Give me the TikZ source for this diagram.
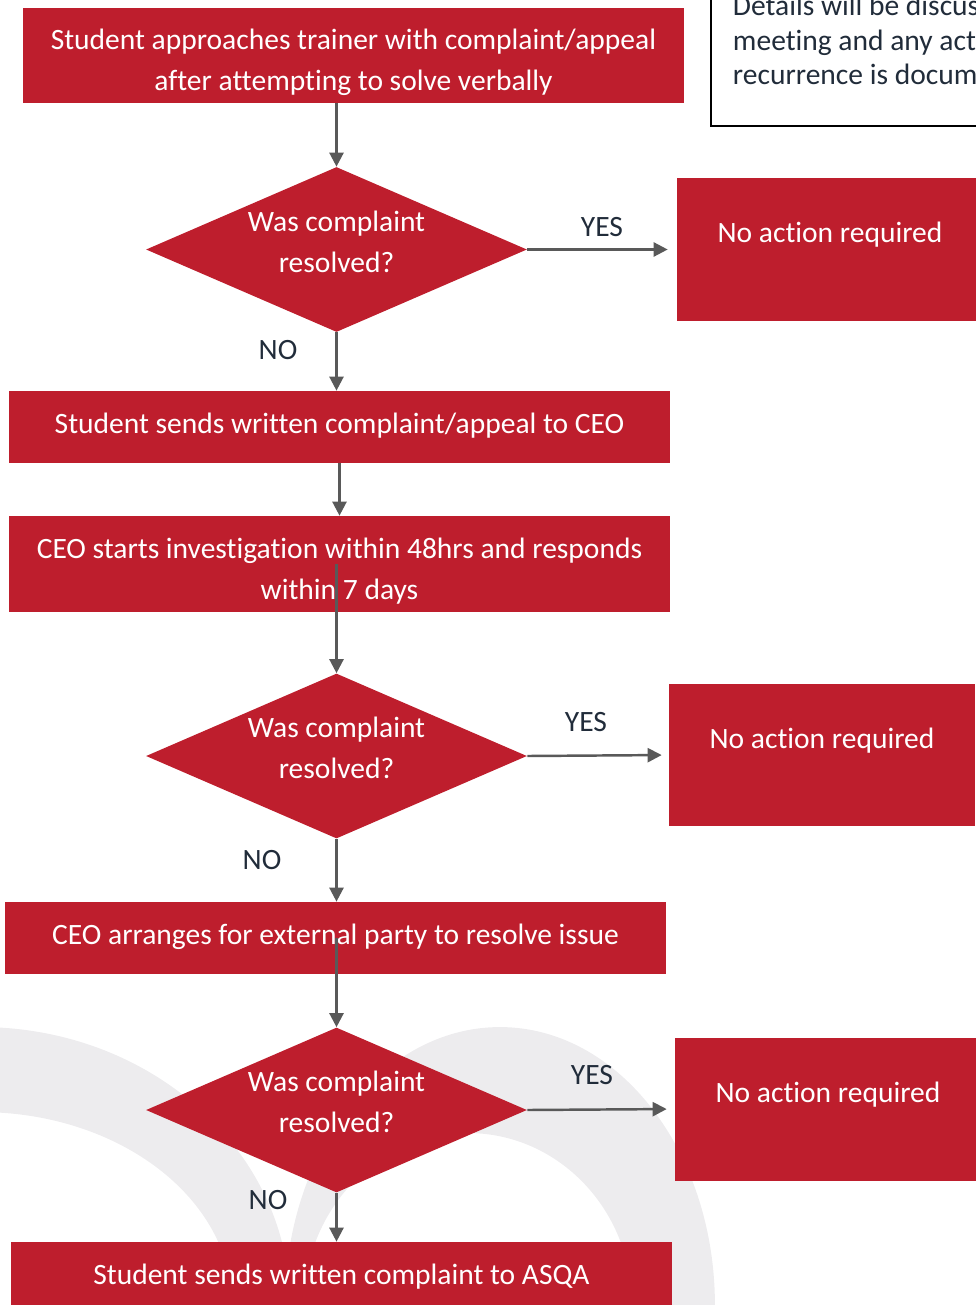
\documentclass[tikz,border=0pt]{standalone}
\usepackage{fontspec}
\setmainfont{Carlito}[Ligatures=CommonOff]
\usepackage{tikz}
\usetikzlibrary{positioning, arrows.meta, shapes.geometric}
\definecolor{cpred}{RGB}{190, 30, 45}
\definecolor{cpgrey}{RGB}{89, 89, 89}
\definecolor{cpnavy}{RGB}{33, 44, 58}
\definecolor{cpwash}{RGB}{237, 236, 238}
\tikzset{
    cpfont/.style={font=\fontsize{16.8}{23.2}\selectfont},
    stepbox/.style={rectangle, fill=cpred, text=white, cpfont, align=flush center, text width=13.22cm, minimum height=1.44cm, inner sep=0pt, text height=10pt, text depth=3pt},
    twoline/.style={text depth=16.5pt},
    decision/.style={diamond, aspect=2.31, fill=cpred, text=white, cpfont, align=flush center, text width=3.8cm, text height=10pt, text depth=30.6pt, minimum width=7.62cm, minimum height=3.3cm, inner sep=0pt},
    sidebox/.style={rectangle, fill=cpred, text=white, cpfont, align=flush center, text width=5.6cm, text height=10pt, text depth=17.5pt, minimum width=6.12cm, minimum height=2.86cm, inner sep=0pt},
    notebox/.style={rectangle, draw=black, line width=1.1pt, text=cpnavy, font=\fontsize{16.8}{19.8}\selectfont, align=flush left, text width=9cm, inner xsep=0.44cm, inner ysep=0.82cm},
    lbl/.style={text=cpnavy, cpfont, inner sep=0pt},
    flow/.style={draw=cpgrey, line width=1.4pt, -{Triangle[length=8pt, width=8pt]}}
}

\begin{document}
\begin{tikzpicture}[x=0.02cm, y=-0.02cm]
                \useasboundingbox (0,0) rectangle (976,1305);
                \clip (0,0) rectangle (976,1305);
                \fill[cpwash] (-20,1027) arc[start angle=90, end angle=0, x radius=6.2cm, y radius=5.56cm]
                    -- (232,1305) arc[start angle=0, end angle=90, x radius=5.04cm, y radius=3.86cm] -- cycle;
                \fill[cpwash] (285,1305) arc[start angle=180, end angle=0, x radius=4.3cm, y radius=5.56cm]
                    -- (632,1305) arc[start angle=0, end angle=180, x radius=3.28cm, y radius=3.44cm] -- cycle;

                \node[stepbox, twoline, minimum height=1.9cm] (box1) at (353.5,55.5) {Student approaches trainer with complaint/appeal\\after attempting to solve verbally};
                \node[notebox, anchor=south west] (note) at (710,127) {Details will be discussed\\meeting and any action\\recurrence is documented};
                \node[decision] (d1) at (336.5,249.5) {Was complaint\\resolved?};
                \node[sidebox] (nb1) at (830,249.5) {No action required};
                \node[stepbox] (box2) at (339.5,427) {Student sends written complaint/appeal to CEO};
                \node[stepbox, twoline, minimum height=1.92cm] (box3) at (339.5,564) {CEO starts investigation within 48hrs and responds\\within 7 days};
                \node[decision] (d2) at (336.5,756) {Was complaint\\resolved?};
                \node[sidebox] (nb2) at (822,755) {No action required};
                \node[stepbox] (box5) at (335.5,938) {CEO arranges for external party to resolve issue};
                \node[decision] (d3) at (336.5,1110) {Was complaint\\resolved?};
                \node[sidebox] (nb3) at (828,1109) {No action required};
                \node[stepbox] (box6) at (341.5,1278) {Student sends written complaint to ASQA};

                \node[lbl] (yes1) at (602,227) {YES};
                \node[lbl] (no1) at (278,350) {NO};
                \node[lbl] (yes2) at (586,722) {YES};
                \node[lbl] (no2) at (262,860) {NO};
                \node[lbl] (yes3) at (592,1075) {YES};
                \node[lbl] (no3) at (268,1200) {NO};

                \draw[flow] (box1.south -| d1.north) -- (d1.north);
                \draw[flow, shorten >=0.18cm] (d1.east) -- (nb1.west);
                \draw[flow] (d1.south) -- (box2.north -| d1.south);
                \draw[flow] (box2.south) -- (box3.north);
                \draw[flow] (box3.center -| d2.north) -- (d2.north);
                \draw[flow, shorten >=0.14cm] (d2.east) -- (nb2.west);
                \draw[flow] (d2.south) -- (box5.north -| d2.south);
                \draw[flow] (box5.center -| d3.north) -- (d3.north);
                \draw[flow, shorten >=0.16cm] (d3.east) -- (nb3.west);
                \draw[flow] (d3.south) -- (box6.north -| d3.south);
            \end{tikzpicture}
\end{document}
